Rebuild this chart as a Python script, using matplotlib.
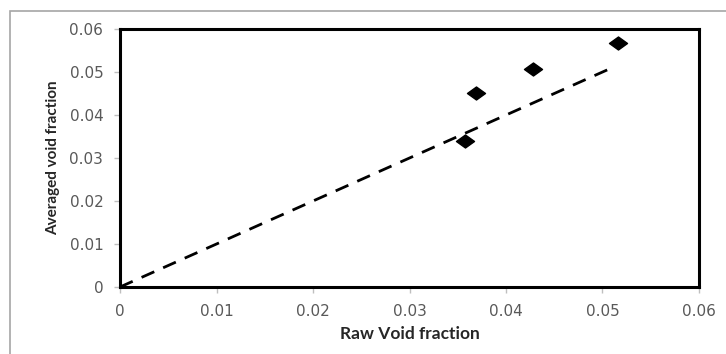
import numpy as np
import matplotlib
matplotlib.use('Agg')
import matplotlib.pyplot as plt
from matplotlib.patches import Rectangle
from matplotlib.path import Path

# measured points
raw_void = [0.0357, 0.0369, 0.0428, 0.0516]
avg_void = [0.0340, 0.0451, 0.0507, 0.0567]

# parity line y = x
line_x = [0.0, 0.0505]
line_y = [0.0, 0.0505]

ticks = [0, 0.01, 0.02, 0.03, 0.04, 0.05, 0.06]
tick_labels = ['0', '0.01', '0.02', '0.03', '0.04', '0.05', '0.06']

fig = plt.figure(figsize=(7.26, 3.54), dpi=100)
ax = fig.add_axes([0.1653, 0.1893, 0.7975, 0.7287])

# outer chart border (only left/top visible in the crop)
fig.patches.append(Rectangle((10 / 726, -0.5), 1.5, 1.5 - 11 / 354,
                             transform=fig.transFigure, fill=False,
                             edgecolor='#a6a6a6', lw=1.2))

diamond = Path([(-1, 0), (0, 0.72), (1, 0), (0, -0.72), (-1, 0)],
               [Path.MOVETO, Path.LINETO, Path.LINETO, Path.LINETO, Path.CLOSEPOLY])

ax.plot(line_x, line_y, color='black', lw=2, dashes=(5, 3.5), zorder=2)
ax.plot(raw_void, avg_void, linestyle='none', marker=diamond, markersize=13,
        color='black', zorder=3)

ax.set_xlim(0, 0.06)
ax.set_ylim(0, 0.06)
ax.set_xticks(ticks)
ax.set_xticklabels(tick_labels)
ax.set_yticks(ticks)
ax.set_yticklabels(tick_labels)

for s in ax.spines.values():
    s.set_linewidth(2.2)
    s.set_color('black')

ax.tick_params(direction='out', length=4, width=1, color='#bfbfbf',
               labelsize=11, labelcolor='#595959', pad=8)

ax.set_xlabel('Raw Void fraction', fontfamily='Lato', fontweight='bold',
              fontsize=12.5, color='#262626', labelpad=5)
ax.set_ylabel('Averaged void fraction', fontfamily='Lato', fontweight='bold',
              fontsize=11, color='#262626', labelpad=7)

plt.savefig('out.png', dpi=100)
